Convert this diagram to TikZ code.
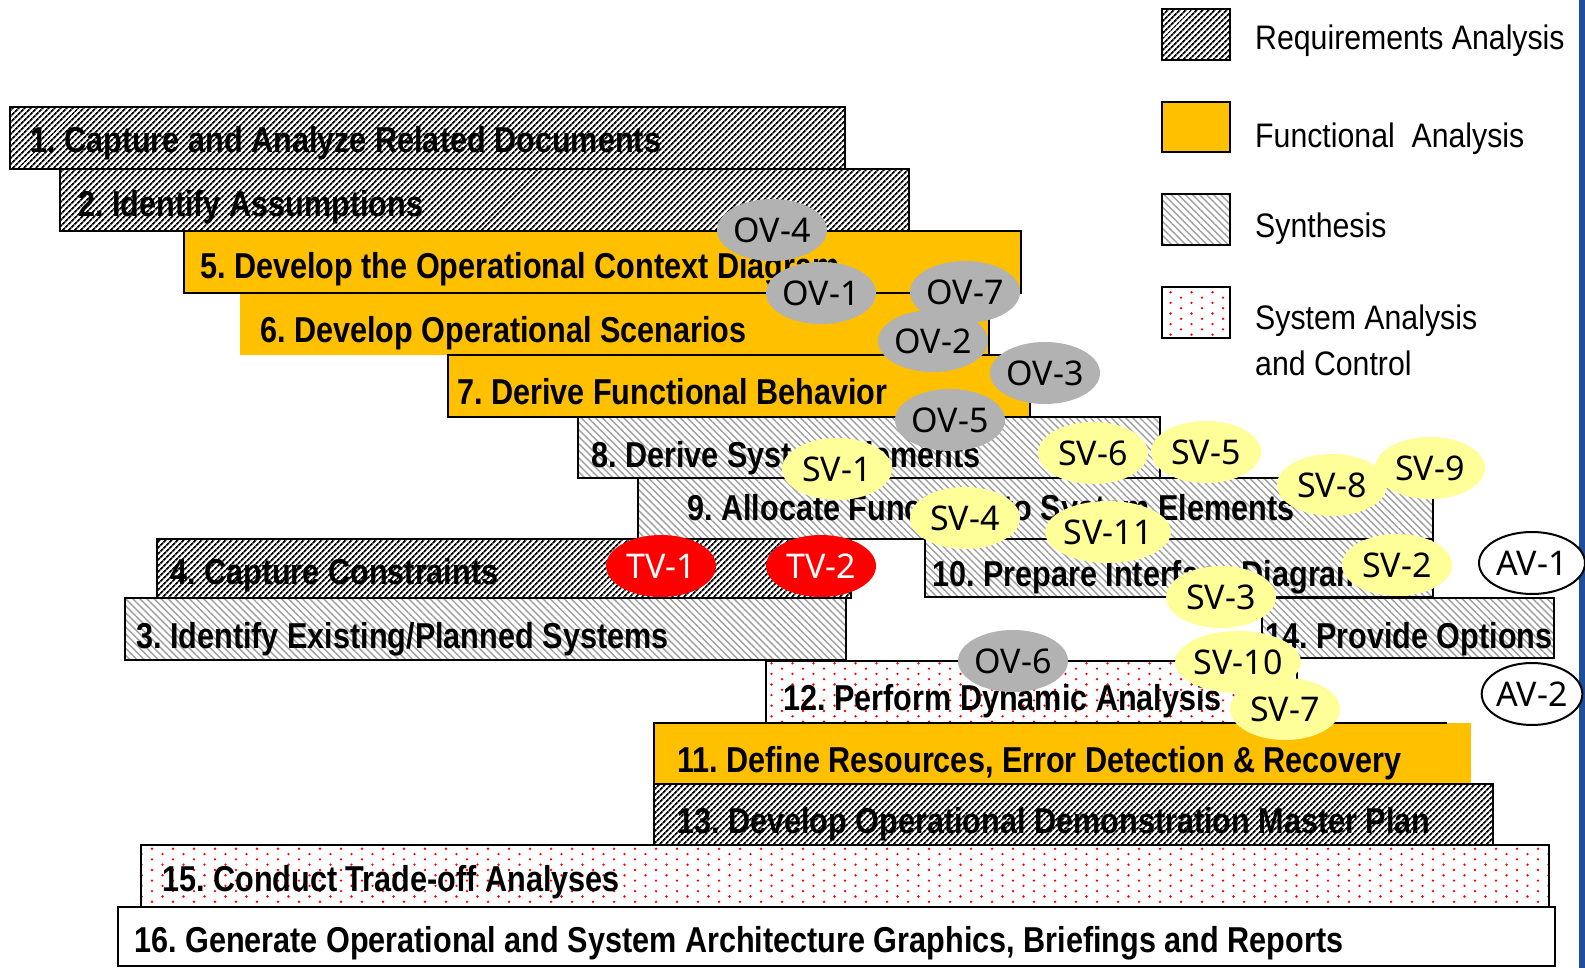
\documentclass[tikz,border=0pt]{standalone}
\usepackage{fontspec}
\usetikzlibrary{shapes.geometric,patterns,patterns.meta}
\newfontfamily\barfont{Liberation Sans}[FakeStretch=0.85]
\newfontfamily\legfont{Liberation Sans}[FakeStretch=0.89]
\newfontfamily\ovfont{Noto Sans}
\definecolor{orng}{HTML}{FFC000}
\definecolor{svy}{HTML}{FFFF99}
\definecolor{ovg}{HTML}{B2B2B2}
\definecolor{tvr}{HTML}{FF0000}
\definecolor{blu}{HTML}{1F4E9B}
\pgfdeclarepatternformonly{reddots}{\pgfqpoint{-1pt}{-1pt}}{\pgfqpoint{22pt}{12pt}}{\pgfqpoint{21pt}{10.6pt}}{%
  \pgfpathcircle{\pgfqpoint{5pt}{2.6pt}}{1.3pt}%
  \pgfpathcircle{\pgfqpoint{15.5pt}{7.9pt}}{1.3pt}%
  \pgfusepath{fill}}
\tikzset{
  border/.style={draw=black, line width=2.5pt},
  req/.style={border, preaction={fill=white}, pattern={Lines[angle=45,distance=4pt,line width=1.9pt]}, pattern color=black},
  synth/.style={border, preaction={fill=white}, pattern={Lines[angle=-45,distance=5pt,line width=1.4pt]}, pattern color=gray!75},
  func/.style={border, fill=orng},
  sysa/.style={border, preaction={fill=white}, pattern=reddots, pattern color=red},
  plainbar/.style={border, fill=white},
  bartext/.style={font=\frenchspacing\barfont\bfseries\fontsize{36}{40}\selectfont, inner sep=0pt, anchor=base west},
  legtext/.style={font=\legfont\fontsize{34}{44}\selectfont, inner sep=0pt, anchor=base west},
  ell/.style={ellipse, minimum width=110pt, minimum height=62pt, inner sep=0pt, font=\ovfont\fontsize{34}{40}\selectfont},
  ov/.style={ell, fill=ovg},
  sv/.style={ell, fill=svy},
  tv/.style={ell, fill=tvr, text=white},
  av/.style={ell, fill=white, draw=black, line width=2pt}
}
\begin{document}
\begin{tikzpicture}[x=1pt,y=-1pt]
\useasboundingbox (0,0) rectangle (1585,968);
\fill[white] (0,0) rectangle (1585,968);
\fill[blu] (1579,0) rectangle (1585,968);
% legend
\draw[req] (1162,9) rectangle (1230,60);
\draw[func] (1162,102) rectangle (1230,152);
\draw[synth] (1162,194) rectangle (1230,245);
\draw[sysa] (1162,287) rectangle (1230,338);
\node[legtext] (l1) at (1255,50) {Requirements Analysis};
\node[legtext] (l2) at (1255,148) {Functional\ \ Analysis};
\node[legtext] (l3) at (1255,238) {Synthesis};
\node[legtext] (l4) at (1255,330) {System Analysis};
\node[legtext] (l5) at (1255,375) {and Control};
% bars
\draw[req] (10,107) rectangle (845,169);
\draw[req] (60,169) rectangle (909,231);
\fill[orng] (240,293) rectangle (989,355);
\draw[line width=2.5pt] (989,293) -- (989,355);
\draw[func] (184,231) rectangle (1021,293);
\draw[func] (448,355) rectangle (1030,417);
\draw[synth] (578,417) rectangle (1160,478);
\draw[synth] (638,478) rectangle (1433,539);
\draw[req] (157,539) rectangle (851,598);
\draw[synth] (925,539) rectangle (1433,597);
\draw[synth] (125,598) rectangle (846,660);
\draw[synth] (1262,598) rectangle (1554,658);
\draw[sysa] (766,661) rectangle (1297,723);
\fill[orng] (654,723) rectangle (1471,784);
\draw[line width=2.5pt] (1447,723) -- (654,723) -- (654,784);
\draw[req] (654,784) rectangle (1493,845);
\draw[sysa] (141,845) rectangle (1549,907);
\draw[plainbar] (118,907) rectangle (1555,966);
% bar texts
\node[bartext] (t1) at (30,153) {1. Capture and Analyze Related Documents};
\node[bartext] (t2) at (78,217) {2. Identify Assumptions};
\node[bartext] (t5) at (200,279) {5. Develop the Operational Context Diagram};
\node[bartext] (t6) at (260,342) {6. Develop Operational Scenarios};
\node[bartext] (t7) at (457,404) {7. Derive Functional Behavior};
\node[bartext] (t8) at (591,467) {8. Derive System Elements};
\node[bartext] (t9) at (687,520) {9. Allocate Functions to System Elements};
\node[bartext] (t4) at (170,584) {4. Capture Constraints};
\node[bartext] (t10) at (932,586) {10. Prepare Interface Diagrams};
\node[bartext] (t3) at (136,648) {3. Identify Existing/Planned Systems};
\node[bartext] (t14) at (1265,648) {14. Provide Options};
\node[bartext] (t12) at (783,710) {12. Perform Dynamic Analysis};
\node[bartext] (t11) at (677,772) {11. Define Resources, Error Detection \& Recovery};
\node[bartext] (t13) at (677,833) {13. Develop Operational Demonstration Master Plan};
\node[bartext] (t15) at (162,891) {15. Conduct Trade-off Analyses};
\node[bartext] (t16) at (134,952) {16. Generate Operational and System Architecture Graphics, Briefings and Reports};
% ellipses
\node[ov] (ov4) at (772,230) {OV-4};
\node[ov] (ov1) at (821,293) {OV-1};
\node[ov] (ov7) at (965,292) {OV-7};
\node[ov] (ov2) at (933,341) {OV-2};
\node[ov] (ov3) at (1045,373) {OV-3};
\node[ov] (ov5) at (950,420) {OV-5};
\node[sv] (sv1) at (837,469) {SV-1};
\node[sv] (sv6) at (1093,453) {SV-6};
\node[sv] (sv5) at (1206,452) {SV-5};
\node[sv] (sv8) at (1332,485) {SV-8};
\node[sv] (sv9) at (1430,468) {SV-9};
\node[sv] (sv4) at (965,518) {SV-4};
\node[sv] (sv11) at (1108,532) {SV-11};
\node[sv] (sv2) at (1397,565) {SV-2};
\node[sv] (sv3) at (1221,597) {SV-3};
\node[ov] (ov6) at (1013,661) {OV-6};
\node[sv] (sv10) at (1238,662) {SV-10};
\node[sv] (sv7) at (1285,709) {SV-7};
\node[tv] (tv1) at (661,566) {TV-1};
\node[tv] (tv2) at (821,566) {TV-2};
\node[av, minimum width=106pt] (av1) at (1532,563) {AV-1};
\node[av, minimum width=98pt] (av2) at (1532,694) {AV-2};
\end{tikzpicture}
\end{document}
